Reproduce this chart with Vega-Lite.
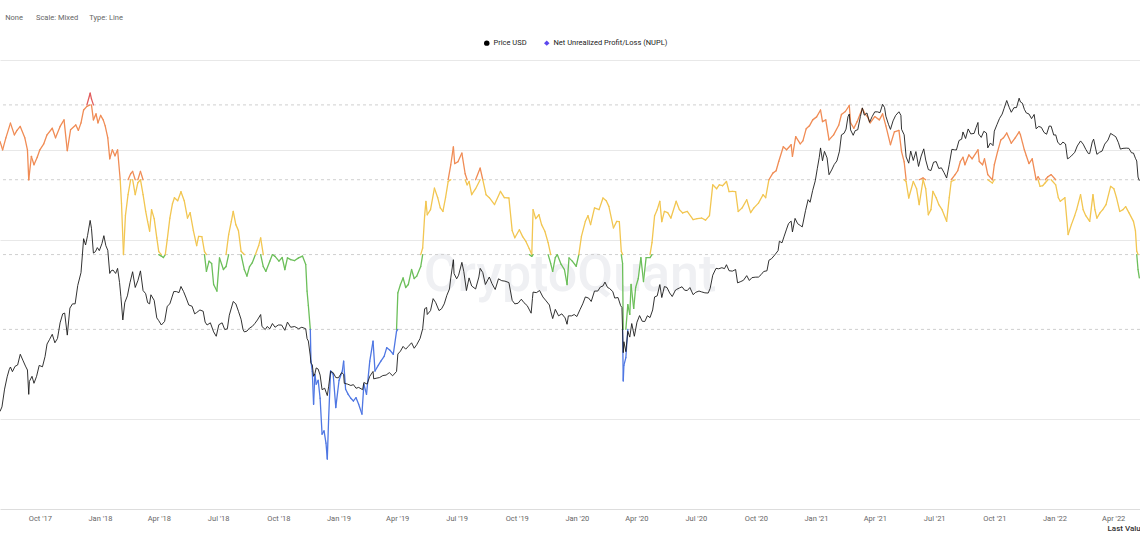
{
"$schema": "https://vega.github.io/schema/vega-lite/v6.json",
"width": 1140, "height": 449,
"autosize": {"type": "none"},
"padding": {"top": 60, "left": 0, "right": 0, "bottom": 38},
"background": "#ffffff",
"config": {"font": "Roboto", "view": {"stroke": null}},
"title": {"text": "None\u00a0\u00a0\u00a0\u00a0\u00a0\u00a0\u00a0Scale: Mixed\u00a0\u00a0\u00a0\u00a0\u00a0\u00a0Type: Line", "anchor": "start", "orient": "top", "fontSize": 7.5, "fontWeight": "normal", "color": "#666666", "font": "Roboto", "offset": 18, "dx": 7},
"datasets": {
"zones": [{"t": 0.75}, {"t": 0.5}, {"t": 0.25}, {"t": 0}],
"series": [{"s": "Price USD"}, {"s": "Net Unrealized Profit/Loss (NUPL)"}],
"price": [
{"d":"2017-08-01","p":2720},{"d":"2017-08-04","p":2850},{"d":"2017-08-08","p":3420},{"d":"2017-08-12","p":3880},{"d":"2017-08-15","p":4170},{"d":"2017-08-17","p":4290},{"d":"2017-08-20","p":4090},{"d":"2017-08-24","p":4320},{"d":"2017-08-28","p":4380},{"d":"2017-09-01","p":4890},{"d":"2017-09-05","p":4600},{"d":"2017-09-09","p":4330},{"d":"2017-09-12","p":4160},{"d":"2017-09-14","p":3240},{"d":"2017-09-15","p":3700},{"d":"2017-09-19","p":3900},{"d":"2017-09-22","p":3630},{"d":"2017-09-26","p":3900},{"d":"2017-09-30","p":4360},{"d":"2017-10-05","p":4300},{"d":"2017-10-09","p":4780},{"d":"2017-10-12","p":5430},{"d":"2017-10-16","p":5700},{"d":"2017-10-20","p":6000},{"d":"2017-10-24","p":5500},{"d":"2017-10-28","p":5750},{"d":"2017-11-01","p":6750},{"d":"2017-11-05","p":7400},{"d":"2017-11-08","p":7460},{"d":"2017-11-12","p":5950},{"d":"2017-11-16","p":7850},{"d":"2017-11-20","p":8200},{"d":"2017-11-24","p":8200},{"d":"2017-11-28","p":9900},{"d":"2017-12-03","p":11300},{"d":"2017-12-07","p":16000},{"d":"2017-12-10","p":15000},{"d":"2017-12-13","p":16500},{"d":"2017-12-17","p":19300},{"d":"2017-12-19","p":17800},{"d":"2017-12-22","p":13800},{"d":"2017-12-25","p":14000},{"d":"2017-12-28","p":14600},{"d":"2017-12-31","p":14150},
{"d":"2018-01-04","p":15200},{"d":"2018-01-07","p":16500},{"d":"2018-01-10","p":14900},{"d":"2018-01-13","p":14200},{"d":"2018-01-16","p":11200},{"d":"2018-01-18","p":11500},{"d":"2018-01-21","p":11600},{"d":"2018-01-25","p":11200},{"d":"2018-01-28","p":11800},{"d":"2018-01-31","p":10200},{"d":"2018-02-02","p":8850},{"d":"2018-02-05","p":6950},{"d":"2018-02-08","p":8300},{"d":"2018-02-12","p":8900},{"d":"2018-02-16","p":10200},{"d":"2018-02-20","p":11400},{"d":"2018-02-24","p":9700},{"d":"2018-02-28","p":10400},{"d":"2018-03-04","p":11500},{"d":"2018-03-08","p":9400},{"d":"2018-03-12","p":9100},{"d":"2018-03-15","p":8300},{"d":"2018-03-18","p":8200},{"d":"2018-03-20","p":9000},{"d":"2018-03-25","p":8500},{"d":"2018-03-29","p":7100},{"d":"2018-04-01","p":6900},{"d":"2018-04-05","p":6600},{"d":"2018-04-10","p":6850},{"d":"2018-04-14","p":8000},{"d":"2018-04-18","p":8200},{"d":"2018-04-24","p":9300},{"d":"2018-04-28","p":9300},{"d":"2018-05-02","p":9200},{"d":"2018-05-05","p":9800},{"d":"2018-05-09","p":9300},{"d":"2018-05-13","p":8700},{"d":"2018-05-17","p":8100},{"d":"2018-05-22","p":8000},{"d":"2018-05-26","p":7400},{"d":"2018-05-29","p":7500},{"d":"2018-06-03","p":7700},{"d":"2018-06-08","p":7600},{"d":"2018-06-11","p":6800},{"d":"2018-06-14","p":6600},{"d":"2018-06-19","p":6750},{"d":"2018-06-24","p":6150},{"d":"2018-06-28","p":5880},{"d":"2018-07-02","p":6620},{"d":"2018-07-07","p":6750},{"d":"2018-07-11","p":6300},{"d":"2018-07-15","p":6350},{"d":"2018-07-18","p":7300},{"d":"2018-07-24","p":8400},{"d":"2018-07-28","p":8200},{"d":"2018-08-01","p":7600},{"d":"2018-08-05","p":7000},{"d":"2018-08-08","p":6300},{"d":"2018-08-10","p":6150},{"d":"2018-08-14","p":6200},{"d":"2018-08-18","p":6400},{"d":"2018-08-22","p":6500},{"d":"2018-08-26","p":6700},{"d":"2018-08-30","p":6950},{"d":"2018-09-04","p":7350},{"d":"2018-09-06","p":6500},{"d":"2018-09-11","p":6300},{"d":"2018-09-14","p":6500},{"d":"2018-09-18","p":6350},{"d":"2018-09-22","p":6700},{"d":"2018-09-26","p":6450},{"d":"2018-10-01","p":6600},{"d":"2018-10-06","p":6600},{"d":"2018-10-11","p":6250},{"d":"2018-10-15","p":6800},{"d":"2018-10-20","p":6450},{"d":"2018-10-26","p":6500},{"d":"2018-11-01","p":6350},{"d":"2018-11-06","p":6450},{"d":"2018-11-12","p":6350},{"d":"2018-11-14","p":5740},{"d":"2018-11-16","p":5600},{"d":"2018-11-19","p":4800},{"d":"2018-11-20","p":4450},{"d":"2018-11-22","p":4400},{"d":"2018-11-24","p":3900},{"d":"2018-11-26","p":4000},{"d":"2018-11-28","p":4250},{"d":"2018-12-01","p":4200},{"d":"2018-12-04","p":3950},{"d":"2018-12-07","p":3400},{"d":"2018-12-11","p":3450},{"d":"2018-12-15","p":3200},{"d":"2018-12-17","p":3500},{"d":"2018-12-20","p":4100},{"d":"2018-12-24","p":4050},{"d":"2018-12-28","p":3850},
{"d":"2019-01-01","p":3840},{"d":"2019-01-06","p":4050},{"d":"2019-01-09","p":3980},{"d":"2019-01-10","p":3630},{"d":"2019-01-15","p":3600},{"d":"2019-01-20","p":3550},{"d":"2019-01-24","p":3580},{"d":"2019-01-28","p":3450},{"d":"2019-02-01","p":3480},{"d":"2019-02-07","p":3400},{"d":"2019-02-09","p":3660},{"d":"2019-02-14","p":3600},{"d":"2019-02-18","p":3900},{"d":"2019-02-23","p":4100},{"d":"2019-02-24","p":3800},{"d":"2019-03-01","p":3830},{"d":"2019-03-05","p":3850},{"d":"2019-03-10","p":3930},{"d":"2019-03-15","p":3950},{"d":"2019-03-20","p":4050},{"d":"2019-03-25","p":3920},{"d":"2019-03-31","p":4100},{"d":"2019-04-02","p":4900},{"d":"2019-04-06","p":5050},{"d":"2019-04-10","p":5300},{"d":"2019-04-14","p":5150},{"d":"2019-04-18","p":5300},{"d":"2019-04-23","p":5500},{"d":"2019-04-27","p":5200},{"d":"2019-05-01","p":5400},{"d":"2019-05-06","p":5750},{"d":"2019-05-10","p":6350},{"d":"2019-05-13","p":7800},{"d":"2019-05-16","p":7900},{"d":"2019-05-17","p":7350},{"d":"2019-05-22","p":7650},{"d":"2019-05-26","p":8650},{"d":"2019-05-30","p":8300},{"d":"2019-06-04","p":7650},{"d":"2019-06-08","p":7800},{"d":"2019-06-12","p":8200},{"d":"2019-06-16","p":8950},{"d":"2019-06-20","p":9550},{"d":"2019-06-22","p":10700},{"d":"2019-06-26","p":12900},{"d":"2019-06-27","p":11200},{"d":"2019-07-01","p":10600},{"d":"2019-07-04","p":11000},{"d":"2019-07-09","p":12550},{"d":"2019-07-12","p":11400},{"d":"2019-07-16","p":9400},{"d":"2019-07-20","p":10700},{"d":"2019-07-24","p":9850},{"d":"2019-07-30","p":9550},{"d":"2019-08-04","p":10800},{"d":"2019-08-06","p":11800},{"d":"2019-08-10","p":11300},{"d":"2019-08-14","p":10000},{"d":"2019-08-20","p":10800},{"d":"2019-08-24","p":10100},{"d":"2019-08-29","p":9500},{"d":"2019-09-03","p":10600},{"d":"2019-09-08","p":10400},{"d":"2019-09-13","p":10350},{"d":"2019-09-19","p":10200},{"d":"2019-09-24","p":8500},{"d":"2019-09-28","p":8200},{"d":"2019-10-03","p":8250},{"d":"2019-10-08","p":8600},{"d":"2019-10-12","p":8300},{"d":"2019-10-17","p":8050},{"d":"2019-10-23","p":7450},{"d":"2019-10-25","p":8650},{"d":"2019-10-26","p":9250},{"d":"2019-10-31","p":9200},{"d":"2019-11-05","p":9400},{"d":"2019-11-10","p":8800},{"d":"2019-11-15","p":8450},{"d":"2019-11-20","p":8100},{"d":"2019-11-22","p":7600},{"d":"2019-11-25","p":7050},{"d":"2019-11-29","p":7750},{"d":"2019-12-04","p":7250},{"d":"2019-12-09","p":7400},{"d":"2019-12-14","p":7100},{"d":"2019-12-17","p":6650},{"d":"2019-12-19","p":7250},{"d":"2019-12-24","p":7250},{"d":"2019-12-28","p":7350},
{"d":"2020-01-01","p":7200},{"d":"2020-01-06","p":7750},{"d":"2020-01-10","p":8200},{"d":"2020-01-14","p":8800},{"d":"2020-01-19","p":8700},{"d":"2020-01-23","p":8400},{"d":"2020-01-28","p":9350},{"d":"2020-02-02","p":9350},{"d":"2020-02-06","p":9750},{"d":"2020-02-10","p":9850},{"d":"2020-02-13","p":10250},{"d":"2020-02-17","p":9700},{"d":"2020-02-20","p":9600},{"d":"2020-02-25","p":9300},{"d":"2020-02-28","p":8700},{"d":"2020-03-04","p":8750},{"d":"2020-03-08","p":8050},{"d":"2020-03-10","p":7900},{"d":"2020-03-12","p":4970},{"d":"2020-03-13","p":5560},{"d":"2020-03-16","p":5020},{"d":"2020-03-19","p":6190},{"d":"2020-03-22","p":5830},{"d":"2020-03-25","p":6700},{"d":"2020-03-29","p":5880},{"d":"2020-04-02","p":6790},{"d":"2020-04-06","p":7270},{"d":"2020-04-10","p":6860},{"d":"2020-04-14","p":6840},{"d":"2020-04-18","p":7260},{"d":"2020-04-22","p":7120},{"d":"2020-04-26","p":7700},{"d":"2020-04-29","p":8800},{"d":"2020-05-03","p":8900},{"d":"2020-05-07","p":9990},{"d":"2020-05-10","p":8750},{"d":"2020-05-14","p":9790},{"d":"2020-05-18","p":9700},{"d":"2020-05-22","p":9170},{"d":"2020-05-26","p":8840},{"d":"2020-05-31","p":9450},{"d":"2020-06-02","p":9520},{"d":"2020-06-06","p":9650},{"d":"2020-06-10","p":9770},{"d":"2020-06-14","p":9430},{"d":"2020-06-18","p":9400},{"d":"2020-06-22","p":9690},{"d":"2020-06-27","p":9010},{"d":"2020-07-01","p":9230},{"d":"2020-07-06","p":9350},{"d":"2020-07-10","p":9270},{"d":"2020-07-15","p":9180},{"d":"2020-07-20","p":9160},{"d":"2020-07-23","p":9600},{"d":"2020-07-27","p":11000},{"d":"2020-08-01","p":11800},{"d":"2020-08-05","p":11750},{"d":"2020-08-10","p":11880},{"d":"2020-08-14","p":11770},{"d":"2020-08-17","p":12250},{"d":"2020-08-21","p":11520},{"d":"2020-08-26","p":11470},{"d":"2020-08-31","p":11660},{"d":"2020-09-03","p":10170},{"d":"2020-09-07","p":10280},{"d":"2020-09-12","p":10440},{"d":"2020-09-17","p":10950},{"d":"2020-09-21","p":10420},{"d":"2020-09-25","p":10730},{"d":"2020-09-30","p":10780},{"d":"2020-10-05","p":10790},{"d":"2020-10-09","p":11060},{"d":"2020-10-13","p":11430},{"d":"2020-10-18","p":11510},{"d":"2020-10-21","p":12820},{"d":"2020-10-25","p":13030},{"d":"2020-10-30","p":13550},{"d":"2020-11-04","p":14150},{"d":"2020-11-06","p":15590},{"d":"2020-11-10","p":15330},{"d":"2020-11-13","p":16300},{"d":"2020-11-17","p":17650},{"d":"2020-11-20","p":18680},{"d":"2020-11-24","p":19160},{"d":"2020-11-26","p":17150},{"d":"2020-11-30","p":19700},{"d":"2020-12-04","p":18650},{"d":"2020-12-08","p":18320},{"d":"2020-12-11","p":18050},{"d":"2020-12-16","p":21310},{"d":"2020-12-20","p":23870},{"d":"2020-12-23","p":23240},{"d":"2020-12-27","p":26270},{"d":"2020-12-31","p":29000},
{"d":"2021-01-03","p":32780},{"d":"2021-01-06","p":36770},{"d":"2021-01-08","p":40580},{"d":"2021-01-11","p":35570},{"d":"2021-01-14","p":39190},{"d":"2021-01-18","p":36630},{"d":"2021-01-21","p":30830},{"d":"2021-01-25","p":32370},{"d":"2021-01-29","p":34260},{"d":"2021-02-02","p":35510},{"d":"2021-02-06","p":39270},{"d":"2021-02-09","p":46400},{"d":"2021-02-13","p":47170},{"d":"2021-02-16","p":49200},{"d":"2021-02-19","p":55890},{"d":"2021-02-21","p":57490},{"d":"2021-02-23","p":48820},{"d":"2021-02-27","p":46190},{"d":"2021-03-02","p":48440},{"d":"2021-03-06","p":48920},{"d":"2021-03-10","p":55970},{"d":"2021-03-13","p":61200},{"d":"2021-03-16","p":56800},{"d":"2021-03-20","p":58100},{"d":"2021-03-24","p":52770},{"d":"2021-03-28","p":55970},{"d":"2021-04-01","p":58750},{"d":"2021-04-05","p":58760},{"d":"2021-04-09","p":58240},{"d":"2021-04-13","p":63500},{"d":"2021-04-16","p":61370},{"d":"2021-04-18","p":56200},{"d":"2021-04-22","p":51700},{"d":"2021-04-25","p":49070},{"d":"2021-04-29","p":53560},{"d":"2021-05-03","p":56650},{"d":"2021-05-08","p":58800},{"d":"2021-05-11","p":56700},{"d":"2021-05-12","p":49150},{"d":"2021-05-16","p":46420},{"d":"2021-05-19","p":37000},{"d":"2021-05-23","p":34700},{"d":"2021-05-26","p":39300},{"d":"2021-05-30","p":35680},{"d":"2021-06-03","p":39100},{"d":"2021-06-07","p":33560},{"d":"2021-06-11","p":37330},{"d":"2021-06-15","p":40200},{"d":"2021-06-18","p":35820},{"d":"2021-06-22","p":32500},{"d":"2021-06-26","p":32180},{"d":"2021-06-30","p":35040},{"d":"2021-07-04","p":35290},{"d":"2021-07-08","p":32860},{"d":"2021-07-12","p":33100},{"d":"2021-07-16","p":31520},{"d":"2021-07-20","p":29800},{"d":"2021-07-24","p":34240},{"d":"2021-07-28","p":40000},{"d":"2021-08-01","p":39800},{"d":"2021-08-04","p":39750},{"d":"2021-08-08","p":43800},{"d":"2021-08-12","p":44400},{"d":"2021-08-14","p":47800},{"d":"2021-08-18","p":44700},{"d":"2021-08-22","p":49300},{"d":"2021-08-26","p":46850},{"d":"2021-08-31","p":47100},{"d":"2021-09-03","p":49950},{"d":"2021-09-06","p":52700},{"d":"2021-09-07","p":46800},{"d":"2021-09-11","p":45200},{"d":"2021-09-15","p":48150},{"d":"2021-09-19","p":47250},{"d":"2021-09-21","p":40600},{"d":"2021-09-25","p":42700},{"d":"2021-09-29","p":41550},{"d":"2021-10-01","p":48200},{"d":"2021-10-05","p":51500},{"d":"2021-10-09","p":54950},{"d":"2021-10-13","p":57400},{"d":"2021-10-16","p":60900},{"d":"2021-10-20","p":66000},{"d":"2021-10-24","p":61300},{"d":"2021-10-27","p":58500},{"d":"2021-10-31","p":61300},{"d":"2021-11-04","p":61400},{"d":"2021-11-08","p":67600},{"d":"2021-11-10","p":65000},{"d":"2021-11-13","p":64200},{"d":"2021-11-16","p":60300},{"d":"2021-11-19","p":58100},{"d":"2021-11-23","p":57500},{"d":"2021-11-27","p":54800},{"d":"2021-12-01","p":57200},{"d":"2021-12-04","p":49400},{"d":"2021-12-08","p":50600},{"d":"2021-12-12","p":50100},{"d":"2021-12-16","p":47600},{"d":"2021-12-20","p":46700},{"d":"2021-12-24","p":50800},{"d":"2021-12-27","p":50700},{"d":"2021-12-31","p":46300},
{"d":"2022-01-03","p":46400},{"d":"2022-01-06","p":43100},{"d":"2022-01-10","p":41800},{"d":"2022-01-14","p":43100},{"d":"2022-01-18","p":42250},{"d":"2022-01-21","p":36300},{"d":"2022-01-24","p":36700},{"d":"2022-01-28","p":37700},{"d":"2022-02-01","p":38700},{"d":"2022-02-05","p":41400},{"d":"2022-02-10","p":43600},{"d":"2022-02-14","p":42200},{"d":"2022-02-18","p":40000},{"d":"2022-02-22","p":38300},{"d":"2022-02-24","p":38300},{"d":"2022-02-28","p":43200},{"d":"2022-03-02","p":44400},{"d":"2022-03-07","p":38000},{"d":"2022-03-11","p":38800},{"d":"2022-03-15","p":39300},{"d":"2022-03-19","p":42200},{"d":"2022-03-24","p":44000},{"d":"2022-03-28","p":47100},{"d":"2022-04-01","p":46300},{"d":"2022-04-05","p":45500},{"d":"2022-04-09","p":42800},{"d":"2022-04-12","p":40100},{"d":"2022-04-16","p":40400},{"d":"2022-04-21","p":40500},{"d":"2022-04-25","p":40400},{"d":"2022-04-29","p":38600},{"d":"2022-05-02","p":38500},{"d":"2022-05-05","p":36500},{"d":"2022-05-07","p":35500},{"d":"2022-05-09","p":30100},{"d":"2022-05-11","p":29000}
],
"nupl": [
{"d":"2017-08-01","n":0.628},{"d":"2017-08-05","n":0.6},{"d":"2017-08-10","n":0.64},{"d":"2017-08-17","n":0.689},{"d":"2017-08-23","n":0.65},{"d":"2017-08-27","n":0.665},{"d":"2017-09-01","n":0.678},{"d":"2017-09-08","n":0.64},{"d":"2017-09-12","n":0.6},{"d":"2017-09-14","n":0.5},{"d":"2017-09-18","n":0.578},{"d":"2017-09-22","n":0.55},{"d":"2017-09-27","n":0.575},{"d":"2017-10-01","n":0.6},{"d":"2017-10-07","n":0.62},{"d":"2017-10-12","n":0.65},{"d":"2017-10-20","n":0.672},{"d":"2017-10-25","n":0.64},{"d":"2017-11-01","n":0.678},{"d":"2017-11-07","n":0.7},{"d":"2017-11-12","n":0.597},{"d":"2017-11-17","n":0.667},{"d":"2017-11-25","n":0.683},{"d":"2017-11-29","n":0.665},{"d":"2017-12-03","n":0.69},{"d":"2017-12-07","n":0.733},{"d":"2017-12-12","n":0.745},{"d":"2017-12-17","n":0.789},{"d":"2017-12-19","n":0.77},{"d":"2017-12-22","n":0.7},{"d":"2017-12-26","n":0.72},{"d":"2017-12-29","n":0.69},
{"d":"2018-01-02","n":0.715},{"d":"2018-01-06","n":0.7},{"d":"2018-01-09","n":0.68},{"d":"2018-01-13","n":0.64},{"d":"2018-01-16","n":0.57},{"d":"2018-01-20","n":0.6},{"d":"2018-01-24","n":0.58},{"d":"2018-01-28","n":0.6},{"d":"2018-02-01","n":0.5},{"d":"2018-02-03","n":0.42},{"d":"2018-02-06","n":0.25},{"d":"2018-02-09","n":0.38},{"d":"2018-02-13","n":0.45},{"d":"2018-02-17","n":0.52},{"d":"2018-02-20","n":0.528},{"d":"2018-02-24","n":0.45},{"d":"2018-02-28","n":0.49},{"d":"2018-03-04","n":0.528},{"d":"2018-03-08","n":0.45},{"d":"2018-03-12","n":0.394},{"d":"2018-03-15","n":0.36},{"d":"2018-03-18","n":0.328},{"d":"2018-03-21","n":0.4},{"d":"2018-03-25","n":0.37},{"d":"2018-03-29","n":0.306},{"d":"2018-04-01","n":0.26},{"d":"2018-04-05","n":0.245},{"d":"2018-04-08","n":0.24},{"d":"2018-04-11","n":0.25},{"d":"2018-04-14","n":0.3},{"d":"2018-04-18","n":0.372},{"d":"2018-04-22","n":0.42},{"d":"2018-04-25","n":0.44},{"d":"2018-04-30","n":0.43},{"d":"2018-05-05","n":0.46},{"d":"2018-05-10","n":0.43},{"d":"2018-05-15","n":0.372},{"d":"2018-05-19","n":0.39},{"d":"2018-05-24","n":0.33},{"d":"2018-05-29","n":0.28},{"d":"2018-06-01","n":0.311},{"d":"2018-06-06","n":0.31},{"d":"2018-06-10","n":0.26},{"d":"2018-06-13","n":0.194},{"d":"2018-06-17","n":0.228},{"d":"2018-06-21","n":0.22},{"d":"2018-06-24","n":0.15},{"d":"2018-06-29","n":0.128},{"d":"2018-07-03","n":0.239},{"d":"2018-07-09","n":0.2},{"d":"2018-07-13","n":0.21},{"d":"2018-07-17","n":0.317},{"d":"2018-07-21","n":0.36},{"d":"2018-07-24","n":0.394},{"d":"2018-07-28","n":0.35},{"d":"2018-08-01","n":0.33},{"d":"2018-08-05","n":0.261},{"d":"2018-08-10","n":0.2},{"d":"2018-08-14","n":0.178},{"d":"2018-08-18","n":0.21},{"d":"2018-08-22","n":0.222},{"d":"2018-08-27","n":0.25},{"d":"2018-09-01","n":0.28},{"d":"2018-09-04","n":0.306},{"d":"2018-09-08","n":0.21},{"d":"2018-09-12","n":0.194},{"d":"2018-09-18","n":0.228},{"d":"2018-09-22","n":0.25},{"d":"2018-09-26","n":0.244},{"d":"2018-10-02","n":0.228},{"d":"2018-10-07","n":0.24},{"d":"2018-10-11","n":0.2},{"d":"2018-10-15","n":0.239},{"d":"2018-10-20","n":0.233},{"d":"2018-10-26","n":0.23},{"d":"2018-11-01","n":0.239},{"d":"2018-11-07","n":0.245},{"d":"2018-11-12","n":0.217},{"d":"2018-11-14","n":0.128},{"d":"2018-11-16","n":0.08},{"d":"2018-11-19","n":0.0},{"d":"2018-11-20","n":-0.106},{"d":"2018-11-22","n":-0.14},{"d":"2018-11-24","n":-0.25},{"d":"2018-11-26","n":-0.15},{"d":"2018-11-28","n":-0.183},{"d":"2018-12-01","n":-0.17},{"d":"2018-12-04","n":-0.23},{"d":"2018-12-07","n":-0.35},{"d":"2018-12-10","n":-0.339},{"d":"2018-12-13","n":-0.38},{"d":"2018-12-15","n":-0.433},{"d":"2018-12-17","n":-0.3},{"d":"2018-12-20","n":-0.139},{"d":"2018-12-24","n":-0.15},{"d":"2018-12-28","n":-0.261},
{"d":"2019-01-02","n":-0.17},{"d":"2019-01-07","n":-0.139},{"d":"2019-01-09","n":-0.106},{"d":"2019-01-12","n":-0.2},{"d":"2019-01-16","n":-0.217},{"d":"2019-01-20","n":-0.23},{"d":"2019-01-24","n":-0.239},{"d":"2019-01-28","n":-0.228},{"d":"2019-02-01","n":-0.25},{"d":"2019-02-06","n":-0.283},{"d":"2019-02-09","n":-0.183},{"d":"2019-02-13","n":-0.217},{"d":"2019-02-18","n":-0.106},{"d":"2019-02-23","n":-0.039},{"d":"2019-02-26","n":-0.139},{"d":"2019-03-03","n":-0.12},{"d":"2019-03-07","n":-0.106},{"d":"2019-03-12","n":-0.09},{"d":"2019-03-16","n":-0.061},{"d":"2019-03-21","n":-0.07},{"d":"2019-03-26","n":-0.083},{"d":"2019-03-31","n":-0.006},{"d":"2019-04-02","n":0.122},{"d":"2019-04-06","n":0.15},{"d":"2019-04-10","n":0.172},{"d":"2019-04-14","n":0.14},{"d":"2019-04-18","n":0.15},{"d":"2019-04-23","n":0.2},{"d":"2019-04-27","n":0.17},{"d":"2019-05-01","n":0.178},{"d":"2019-05-07","n":0.21},{"d":"2019-05-10","n":0.272},{"d":"2019-05-13","n":0.38},{"d":"2019-05-15","n":0.428},{"d":"2019-05-17","n":0.383},{"d":"2019-05-22","n":0.4},{"d":"2019-05-28","n":0.472},{"d":"2019-06-02","n":0.44},{"d":"2019-06-06","n":0.406},{"d":"2019-06-10","n":0.394},{"d":"2019-06-14","n":0.44},{"d":"2019-06-18","n":0.494},{"d":"2019-06-22","n":0.55},{"d":"2019-06-26","n":0.61},{"d":"2019-06-28","n":0.554},{"d":"2019-07-03","n":0.56},{"d":"2019-07-09","n":0.589},{"d":"2019-07-14","n":0.52},{"d":"2019-07-17","n":0.483},{"d":"2019-07-20","n":0.494},{"d":"2019-07-24","n":0.45},{"d":"2019-07-30","n":0.47},{"d":"2019-08-06","n":0.539},{"d":"2019-08-10","n":0.5},{"d":"2019-08-15","n":0.45},{"d":"2019-08-20","n":0.44},{"d":"2019-08-28","n":0.417},{"d":"2019-09-06","n":0.461},{"d":"2019-09-12","n":0.44},{"d":"2019-09-19","n":0.439},{"d":"2019-09-24","n":0.33},{"d":"2019-09-28","n":0.306},{"d":"2019-10-05","n":0.333},{"d":"2019-10-10","n":0.31},{"d":"2019-10-15","n":0.294},{"d":"2019-10-20","n":0.27},{"d":"2019-10-24","n":0.244},{"d":"2019-10-26","n":0.4},{"d":"2019-10-30","n":0.37},{"d":"2019-11-04","n":0.383},{"d":"2019-11-08","n":0.35},{"d":"2019-11-13","n":0.328},{"d":"2019-11-18","n":0.29},{"d":"2019-11-22","n":0.22},{"d":"2019-11-25","n":0.194},{"d":"2019-11-29","n":0.24},{"d":"2019-12-02","n":0.25},{"d":"2019-12-08","n":0.217},{"d":"2019-12-13","n":0.2},{"d":"2019-12-17","n":0.15},{"d":"2019-12-20","n":0.239},{"d":"2019-12-25","n":0.228},{"d":"2019-12-31","n":0.211},
{"d":"2020-01-04","n":0.25},{"d":"2020-01-08","n":0.311},{"d":"2020-01-14","n":0.361},{"d":"2020-01-18","n":0.38},{"d":"2020-01-22","n":0.35},{"d":"2020-01-28","n":0.406},{"d":"2020-02-04","n":0.4},{"d":"2020-02-10","n":0.439},{"d":"2020-02-15","n":0.43},{"d":"2020-02-19","n":0.411},{"d":"2020-02-26","n":0.339},{"d":"2020-03-02","n":0.361},{"d":"2020-03-06","n":0.36},{"d":"2020-03-09","n":0.261},{"d":"2020-03-11","n":0.22},{"d":"2020-03-12","n":-0.172},{"d":"2020-03-13","n":-0.12},{"d":"2020-03-16","n":-0.094},{"d":"2020-03-19","n":0.083},{"d":"2020-03-22","n":0.05},{"d":"2020-03-24","n":0.15},{"d":"2020-03-28","n":0.07},{"d":"2020-03-31","n":0.14},{"d":"2020-04-04","n":0.17},{"d":"2020-04-08","n":0.24},{"d":"2020-04-12","n":0.16},{"d":"2020-04-16","n":0.24},{"d":"2020-04-22","n":0.24},{"d":"2020-04-25","n":0.29},{"d":"2020-04-29","n":0.38},{"d":"2020-05-03","n":0.4},{"d":"2020-05-07","n":0.428},{"d":"2020-05-10","n":0.36},{"d":"2020-05-14","n":0.394},{"d":"2020-05-19","n":0.39},{"d":"2020-05-24","n":0.372},{"d":"2020-06-01","n":0.428},{"d":"2020-06-06","n":0.4},{"d":"2020-06-11","n":0.389},{"d":"2020-06-18","n":0.394},{"d":"2020-06-27","n":0.367},{"d":"2020-07-03","n":0.37},{"d":"2020-07-10","n":0.372},{"d":"2020-07-16","n":0.365},{"d":"2020-07-22","n":0.38},{"d":"2020-07-27","n":0.483},{"d":"2020-08-02","n":0.47},{"d":"2020-08-06","n":0.483},{"d":"2020-08-11","n":0.48},{"d":"2020-08-17","n":0.494},{"d":"2020-08-21","n":0.46},{"d":"2020-08-26","n":0.461},{"d":"2020-08-31","n":0.46},{"d":"2020-09-04","n":0.394},{"d":"2020-09-10","n":0.406},{"d":"2020-09-17","n":0.433},{"d":"2020-09-23","n":0.39},{"d":"2020-09-28","n":0.406},{"d":"2020-10-05","n":0.422},{"d":"2020-10-12","n":0.45},{"d":"2020-10-16","n":0.44},{"d":"2020-10-21","n":0.5},{"d":"2020-10-27","n":0.522},{"d":"2020-11-01","n":0.53},{"d":"2020-11-05","n":0.561},{"d":"2020-11-12","n":0.61},{"d":"2020-11-17","n":0.6},{"d":"2020-11-24","n":0.617},{"d":"2020-11-26","n":0.578},{"d":"2020-12-01","n":0.644},{"d":"2020-12-08","n":0.62},{"d":"2020-12-12","n":0.63},{"d":"2020-12-17","n":0.67},{"d":"2020-12-22","n":0.68},{"d":"2020-12-27","n":0.7},
{"d":"2021-01-02","n":0.71},{"d":"2021-01-08","n":0.733},{"d":"2021-01-11","n":0.694},{"d":"2021-01-16","n":0.7},{"d":"2021-01-21","n":0.633},{"d":"2021-01-28","n":0.65},{"d":"2021-02-05","n":0.683},{"d":"2021-02-09","n":0.718},{"d":"2021-02-15","n":0.728},{"d":"2021-02-21","n":0.748},{"d":"2021-02-23","n":0.69},{"d":"2021-02-28","n":0.672},{"d":"2021-03-05","n":0.694},{"d":"2021-03-13","n":0.738},{"d":"2021-03-17","n":0.72},{"d":"2021-03-21","n":0.71},{"d":"2021-03-25","n":0.69},{"d":"2021-04-01","n":0.711},{"d":"2021-04-08","n":0.7},{"d":"2021-04-13","n":0.72},{"d":"2021-04-18","n":0.68},{"d":"2021-04-25","n":0.617},{"d":"2021-05-01","n":0.66},{"d":"2021-05-08","n":0.665},{"d":"2021-05-12","n":0.594},{"d":"2021-05-16","n":0.56},{"d":"2021-05-19","n":0.494},{"d":"2021-05-23","n":0.439},{"d":"2021-05-30","n":0.494},{"d":"2021-06-04","n":0.47},{"d":"2021-06-08","n":0.417},{"d":"2021-06-14","n":0.506},{"d":"2021-06-18","n":0.47},{"d":"2021-06-22","n":0.383},{"d":"2021-06-26","n":0.4},{"d":"2021-06-29","n":0.461},{"d":"2021-07-04","n":0.44},{"d":"2021-07-08","n":0.417},{"d":"2021-07-13","n":0.4},{"d":"2021-07-20","n":0.361},{"d":"2021-07-24","n":0.44},{"d":"2021-07-27","n":0.494},{"d":"2021-08-02","n":0.517},{"d":"2021-08-06","n":0.53},{"d":"2021-08-10","n":0.561},{"d":"2021-08-14","n":0.575},{"d":"2021-08-17","n":0.55},{"d":"2021-08-23","n":0.583},{"d":"2021-08-28","n":0.57},{"d":"2021-09-06","n":0.6},{"d":"2021-09-08","n":0.561},{"d":"2021-09-13","n":0.55},{"d":"2021-09-16","n":0.57},{"d":"2021-09-21","n":0.517},{"d":"2021-09-28","n":0.489},{"d":"2021-10-01","n":0.55},{"d":"2021-10-06","n":0.594},{"d":"2021-10-11","n":0.633},{"d":"2021-10-15","n":0.64},{"d":"2021-10-20","n":0.656},{"d":"2021-10-27","n":0.622},{"d":"2021-11-02","n":0.64},{"d":"2021-11-08","n":0.66},{"d":"2021-11-10","n":0.65},{"d":"2021-11-16","n":0.6},{"d":"2021-11-19","n":0.58},{"d":"2021-11-23","n":0.554},{"d":"2021-11-28","n":0.57},{"d":"2021-12-04","n":0.5},{"d":"2021-12-07","n":0.51},{"d":"2021-12-10","n":0.478},{"d":"2021-12-14","n":0.48},{"d":"2021-12-18","n":0.49},{"d":"2021-12-22","n":0.51},{"d":"2021-12-27","n":0.517},
{"d":"2022-01-03","n":0.483},{"d":"2022-01-07","n":0.44},{"d":"2022-01-10","n":0.428},{"d":"2022-01-17","n":0.44},{"d":"2022-01-22","n":0.317},{"d":"2022-01-27","n":0.35},{"d":"2022-02-01","n":0.38},{"d":"2022-02-04","n":0.4},{"d":"2022-02-10","n":0.45},{"d":"2022-02-14","n":0.4},{"d":"2022-02-18","n":0.38},{"d":"2022-02-24","n":0.361},{"d":"2022-03-01","n":0.45},{"d":"2022-03-04","n":0.4},{"d":"2022-03-07","n":0.372},{"d":"2022-03-12","n":0.39},{"d":"2022-03-16","n":0.4},{"d":"2022-03-21","n":0.417},{"d":"2022-03-28","n":0.478},{"d":"2022-04-02","n":0.47},{"d":"2022-04-06","n":0.44},{"d":"2022-04-11","n":0.394},{"d":"2022-04-16","n":0.4},{"d":"2022-04-20","n":0.41},{"d":"2022-04-25","n":0.39},{"d":"2022-05-02","n":0.361},{"d":"2022-05-05","n":0.33},{"d":"2022-05-07","n":0.261},{"d":"2022-05-09","n":0.2},{"d":"2022-05-11","n":0.172}
]
},
"layer": [
{
"data": {"values": [{}]},
"mark": {"type": "text", "text": "CryptoQuant", "fontSize": 52, "fontWeight": 500, "color": "#eff0f3", "font": "Roboto", "align": "center", "baseline": "middle", "dy": -10}
},
{
"data": {"name": "zones"},
"mark": {"type": "rule", "color": "#cfcfcf", "strokeDash": [3, 3], "strokeWidth": 1},
"encoding": {
"y": {"field": "t", "type": "quantitative", "scale": {"domain": [-0.6, 0.9], "nice": false, "zero": false}, "axis": null}
}
},
{
"data": {"name": "nupl"},
"transform": [
{"window": [{"op": "lead", "field": "d", "as": "d2"}, {"op": "lead", "field": "n", "as": "n2"}], "sort": [{"field": "d", "order": "ascending"}], "frame": [null, null]},
{"filter": "datum.n2 != null"},
{"calculate": "[0, 1, 2, 3, 4]", "as": "zi"},
{"flatten": ["zi"]},
{"calculate": "[0.75, 0.5, 0.25, 0, -9][datum.zi]", "as": "lo"},
{"calculate": "[9, 0.75, 0.5, 0.25, 0][datum.zi]", "as": "hi"},
{"filter": "max(datum.n, datum.n2) > datum.lo && min(datum.n, datum.n2) < datum.hi"},
{"calculate": "clamp(datum.n, datum.lo, datum.hi)", "as": "ya"},
{"calculate": "clamp(datum.n2, datum.lo, datum.hi)", "as": "yb"}
],
"mark": {"type": "rule", "strokeWidth": 1.3, "strokeCap": "round"},
"encoding": {
"x": {"field": "d", "type": "temporal", "scale": {"domain": [{"year": 2017, "month": 8, "date": 1}, {"year": 2022, "month": 5, "date": 12}], "nice": false},
"axis": {"title": "Last Value", "titleX": 1107, "titleY": 19, "titleAlign": "left", "titleBaseline": "middle", "titleFontSize": 8, "titleFontWeight": 500, "titleColor": "#333333", "format": "%b '%y", "tickCount": {"interval": "month", "step": 3}, "labelFontSize": 7.5, "labelColor": "#666666", "labelPadding": 5, "ticks": false, "grid": false, "domainColor": "#dddddd", "labelFlush": false, "labelOverlap": false}},
"x2": {"field": "d2"},
"y": {"field": "ya", "type": "quantitative", "scale": {"domain": [-0.6, 0.9], "nice": false, "zero": false},
"axis": {"title": null, "labels": false, "ticks": false, "domain": false, "grid": true, "gridColor": "#e8e8e8", "values": [-0.3, 0.3, 0.6, 0.9]}},
"y2": {"field": "yb"},
"stroke": {"field": "zi", "type": "nominal", "scale": {"domain": [0, 1, 2, 3, 4], "range": ["#e25c5c", "#f08c55", "#f2c651", "#6cbf5a", "#4f77e3"]}, "legend": null}
}
},
{
"data": {"name": "price"},
"mark": {"type": "line", "stroke": "#1c1c1c", "strokeWidth": 0.9},
"encoding": {
"x": {"field": "d", "type": "temporal", "scale": {"domain": [{"year": 2017, "month": 8, "date": 1}, {"year": 2022, "month": 5, "date": 12}], "nice": false},
"axis": {"title": "Last Value", "titleX": 1107, "titleY": 19, "titleAlign": "left", "titleBaseline": "middle", "titleFontSize": 8, "titleFontWeight": 500, "titleColor": "#333333", "format": "%b '%y", "tickCount": {"interval": "month", "step": 3}, "labelFontSize": 7.5, "labelColor": "#666666", "labelPadding": 5, "ticks": false, "grid": false, "domainColor": "#dddddd", "labelFlush": false, "labelOverlap": false}},
"y": {"field": "p", "type": "quantitative", "scale": {"type": "log", "domain": [1000, 100000], "nice": false}, "axis": null}
}
},
{
"data": {"name": "series"},
"mark": {"type": "point", "filled": true, "opacity": 0},
"encoding": {
"color": {"field": "s", "type": "nominal", "scale": {"domain": ["Price USD", "Net Unrealized Profit/Loss (NUPL)"], "range": ["#000000", "#5b47ee"]},
"legend": {"orient": "none", "legendX": 483, "legendY": -21, "direction": "horizontal", "title": null, "labelFontSize": 7.5, "labelColor": "#222222", "labelFont": "Roboto", "symbolSize": 30, "symbolOpacity": 1, "symbolStrokeWidth": 0, "columnPadding": 16, "labelOffset": 3, "labelLimit": 400}},
"shape": {"field": "s", "type": "nominal", "scale": {"domain": ["Price USD", "Net Unrealized Profit/Loss (NUPL)"], "range": ["circle", "diamond"]},
"legend": {"orient": "none", "legendX": 483, "legendY": -21, "direction": "horizontal", "title": null, "labelFontSize": 7.5, "labelColor": "#222222", "labelFont": "Roboto", "symbolSize": 30, "symbolOpacity": 1, "symbolStrokeWidth": 0, "columnPadding": 16, "labelOffset": 3, "labelLimit": 400}}
}
}
],
"resolve": {"scale": {"y": "independent"}}
}
